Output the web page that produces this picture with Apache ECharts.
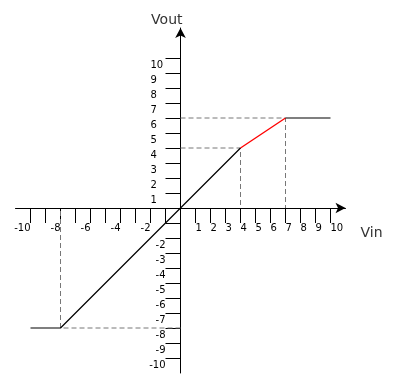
<!DOCTYPE html>
<html><head><meta charset="utf-8">
<script src="https://cdn.jsdelivr.net/npm/echarts@6/dist/echarts.min.js"></script>
<style>html,body{margin:0;padding:0;background:#fff}#c{width:396px;height:389px}</style>
</head><body><div id="c"></div>
<script>
// Data
const xTickValues = [-10,-9,-8,-7,-6,-5,-4,-3,-2,-1,1,2,3,4,5,6,7,8,9,10];
const yTickValues = [-10,-9,-8,-7,-6,-5,-4,-3,-2,-1,1,2,3,4,5,6,7,8,9,10];
const xPosLabelValues = [1,2,3,4,5,6,7,8,9,10];
const xNegLabelValues = [-10,-8,-6,-4,-2];
const yPosLabelValues = [1,2,3,4,5,6,7,8,9,10];
const yNegLabelValues = [-2,-3,-4,-5,-6,-7,-8,-9,-10];
const lowerPath = [[-10,-8],[-8,-8],[4,4]];
const redPath = [[4,4],[7,6]];
const upperPath = [[7,6],[10,6]];
const guidePoints = [[4,4],[7,6],[-8,-8]];

const chart = echarts.init(document.getElementById('c'), null, {renderer:'canvas'});
const font = 'DejaVu Sans';
const guideSeries = guidePoints.map(p => ({
  type:'line', data:[[0,p[1]],[p[0],p[1]],[p[0],0]], symbol:'none', silent:true,
  lineStyle:{color:'#777', width:1, type:[5,3]}, z:1
}));
const xBase = {type:'value', min:-11, max:11, position:'bottom', offset:-165, splitLine:{show:false}};
const yBase = {type:'value', min:-11, max:12, position:'left', offset:-165, splitLine:{show:false}};
const lbl = {hideOverlap:false, showMaxLabel:true, showMinLabel:true, fontFamily:font, fontSize:10, color:'#000'};
chart.setOption({
  animation:false,
  backgroundColor:'#fff',
  grid:{left:15.5, top:28, width:330, height:345, containLabel:false, outerBoundsMode:'none'},
  xAxis:[
    Object.assign({}, xBase, {
      axisLine:{onZero:false, lineStyle:{color:'#000', width:1}, symbol:['none','arrow'], symbolSize:[8,10]},
      axisTick:{show:true, inside:false, length:15, customValues:xTickValues, lineStyle:{color:'#000', width:1}},
      axisLabel:Object.assign({show:true, customValues:xPosLabelValues, margin:15, align:'left'}, lbl),
      name:'Vin', nameLocation:'end', nameGap:15, nameMoveOverlap:false,
      nameTextStyle:{fontFamily:font, fontSize:14, color:'#333', padding:[18,0,0,0], verticalAlign:'top'}
    }),
    Object.assign({}, xBase, {
      axisLine:{show:false}, axisTick:{show:false},
      axisLabel:Object.assign({show:true, customValues:xNegLabelValues, margin:15, align:'right'}, lbl)
    })
  ],
  yAxis:[
    Object.assign({}, yBase, {
      axisLine:{onZero:false, lineStyle:{color:'#000', width:1}, symbol:['none','arrow'], symbolSize:[8,10]},
      axisTick:{show:true, inside:false, length:15, customValues:yTickValues, lineStyle:{color:'#000', width:1}},
      axisLabel:Object.assign({show:true, customValues:yPosLabelValues.map(v=>v-0.5), margin:30, align:'left',
        formatter:function(v){ return String(Math.round(v+0.5)); }}, lbl),
      name:'Vout', nameLocation:'end', nameGap:1, nameMoveOverlap:false,
      nameTextStyle:{fontFamily:font, fontSize:14, color:'#333', align:'right', padding:[0,-2,0,0]}
    }),
    Object.assign({}, yBase, {
      axisLine:{show:false}, axisTick:{show:false},
      axisLabel:Object.assign({show:true, customValues:yNegLabelValues.map(v=>v-0.5), margin:15, align:'right',
        formatter:function(v){ return String(Math.round(v+0.5)); }}, lbl)
    })
  ],
  series: guideSeries.concat([
    {type:'line', data:lowerPath, symbol:'none', silent:true, lineStyle:{color:'#000', width:1.2}, z:3},
    {type:'line', data:redPath, symbol:'none', silent:true, lineStyle:{color:'#f00', width:1.3}, z:3},
    {type:'line', data:upperPath, symbol:'none', silent:true, lineStyle:{color:'#000', width:1.2}, z:3}
  ])
});
</script></body></html>
